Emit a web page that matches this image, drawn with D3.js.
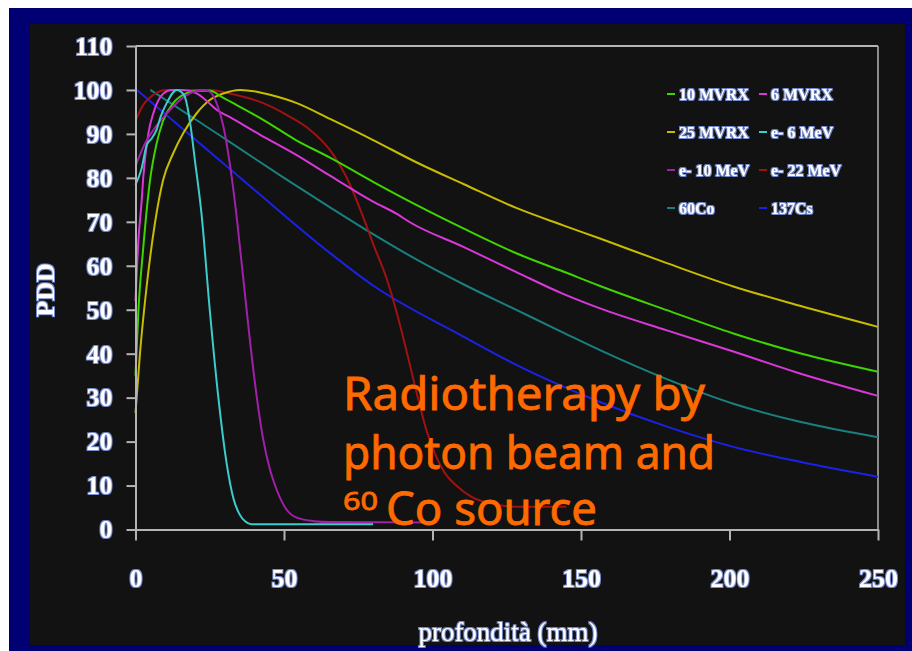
<!DOCTYPE html>
<html>
<head>
<meta charset="utf-8">
<script src="https://cdn.jsdelivr.net/npm/d3@7"></script>
<style>
  html, body { margin: 0; padding: 0; background: #ffffff; }
  svg { display: block; }
</style>
</head>
<body>
<svg id="chart" width="912" height="651"></svg>
<script>
// depth (mm), PDD (%)
const mv10 = [[0,35],[1,50],[2.6,64],[4.8,79],[7,87.5],[9.3,93],[12.7,97],[17,99.2],[20.6,99.8],[25,99.8],[29.6,98.2],[35,96.2],[43,93.2],[54,88.6],[65.5,84.6],[80,79.1],[94.7,73.8],[110.4,68.5],[128.4,62.8],[144,58.7],[156.4,55.4],[178.9,49.9],[201.3,44.6],[223.7,40.1],[250,35.9]];
const mv6 = [[0,52],[1,66],[2.1,75],[2.6,80],[4.3,90],[6,94.7],[9.4,99.2],[12.2,100],[16,100],[20.6,99.2],[24,97.5],[27.3,95.5],[31.8,93.8],[42,89.8],[54,85.3],[65.5,80.5],[80,74.6],[88,71.8],[92.4,69.9],[110.4,64.3],[128.4,58.5],[144,53.6],[156.4,50.3],[178.9,45.3],[201.3,40.5],[223.7,35.5],[250,30.4]];
const mv25 = [[0,26.5],[1.5,40],[3.7,55],[6.5,69.5],[9.3,79.5],[12.7,85.6],[16.1,90.2],[20.6,94.7],[25,97.7],[29.6,99.2],[35.2,100],[40.8,99.6],[45.3,98.9],[54.3,97],[65.5,93.4],[80,88.6],[94.7,83.5],[110.4,78.6],[128.4,73.1],[144,69.2],[156.4,66.2],[178.9,60.6],[201.3,55.3],[223.7,50.9],[250,46.1]];
const e6 = [[0,78.4],[2,82],[3.8,87.5],[5.5,89],[7.1,91],[8.5,94],[10.5,97],[13.9,100],[15.5,99.5],[16.7,98.3],[18.4,92.5],[20,84],[22.2,72],[25,50],[27.9,30],[30.7,15],[33,7],[35,3.5],[37,1.8],[39,1.2],[50,1.2],[80,1.2]];
const e10 = [[0,82.6],[2.6,87],[6,90.9],[9.3,93.7],[13.8,97],[18.3,99.2],[22.8,100],[25,99.6],[27.3,97],[29.6,91.7],[31.8,83],[34,71.5],[36.3,57],[38.5,43.2],[40.8,30.3],[43,20.5],[45.3,13.6],[47.5,9.1],[50.9,4.5],[54.3,2.7],[60,1.9],[65.5,1.7],[100,1.6]];
const e22 = [[0,93],[2.6,96.6],[6,98.9],[10.4,100],[25,100],[31.8,99.2],[43,97],[52,93.9],[58.8,90.9],[65.5,86.3],[72.2,78.5],[76.7,71],[80,65],[84.6,57],[87.9,49.5],[91.3,40.5],[94.7,31],[98,22.5],[101,17],[104,13],[108,10],[113,7.5],[119,6],[128,5.2],[145,5.2]];
const co60 = [[5,100],[20,93.4],[35,86.7],[50,80],[65.5,73.3],[80,67.2],[94.7,61.4],[110.4,55.8],[128.4,49.9],[144,44.8],[156.4,40.8],[178.9,34.2],[201.3,28.6],[223.7,24.5],[250,21]];
const cs137 = [[0.5,100],[20,88.8],[40,77.3],[65.5,62.9],[80,55.5],[110.4,43.9],[128.4,37.4],[144,32.5],[156.4,29],[178.9,23.4],[201.3,18.8],[223.7,15.4],[250,12]];

const seriesNames = ["10 MVRX", "6 MVRX", "25 MVRX", "e- 6 MeV", "e- 10 MeV", "e- 22 MeV", "60Co", "137Cs"];
const seriesData = [mv10, mv6, mv25, e6, e10, e22, co60, cs137];
const seriesColors = ["#3fd400", "#d838d8", "#c8bc00", "#3ccccc", "#a020a8", "#a01212", "#1a7f7f", "#1a22e6"];
// drawing order (back to front)
const drawOrder = [6, 7, 5, 2, 0, 1, 4, 3];

const xTicks = [0, 50, 100, 150, 200, 250];
const yTicks = [0, 10, 20, 30, 40, 50, 60, 70, 80, 90, 100, 110];

const svg = d3.select("#chart");
const serif = "'Liberation Serif', 'Times New Roman', serif";

// soft glow for the white labels
const defs = svg.append("defs");
const glow = defs.append("filter").attr("id", "glow")
    .attr("x", "-20%").attr("y", "-20%").attr("width", "140%").attr("height", "140%");
glow.append("feMorphology").attr("in", "SourceAlpha").attr("operator", "dilate").attr("radius", 0.6).attr("result", "d");
glow.append("feGaussianBlur").attr("in", "d").attr("stdDeviation", 0.7).attr("result", "b");
glow.append("feFlood").attr("flood-color", "#8faaff").attr("flood-opacity", 0.8).attr("result", "c");
glow.append("feComposite").attr("in", "c").attr("in2", "b").attr("operator", "in").attr("result", "g");
const gm = glow.append("feMerge");
gm.append("feMergeNode").attr("in", "g");
gm.append("feMergeNode").attr("in", "SourceGraphic");

// backgrounds
svg.append("rect").attr("x", 9).attr("y", 8).attr("width", 903).attr("height", 643).attr("fill", "#000072");
svg.append("rect").attr("x", 30).attr("y", 24).attr("width", 875).attr("height", 621).attr("fill", "#121212");

const x = d3.scaleLinear().domain([0, 250]).range([135.5, 878]);
const y = d3.scaleLinear().domain([0, 110]).range([529.5, 46]);

// frame top and right
svg.append("line").attr("x1", x(0)).attr("x2", x(250)).attr("y1", y(110)).attr("y2", y(110))
    .attr("stroke", "#b4b4b4").attr("stroke-width", 2);
svg.append("line").attr("x1", x(250)).attr("x2", x(250)).attr("y1", y(110)).attr("y2", y(0))
    .attr("stroke", "#b4b4b4").attr("stroke-width", 1.5);

// curves
const line = d3.line()
    .x(d => x(d[0]))
    .y(d => y(d[1]))
    .curve(d3.curveMonotoneX);

svg.append("g").selectAll("path")
    .data(drawOrder)
    .enter()
    .append("path")
    .attr("d", i => line(seriesData[i]))
    .attr("fill", "none")
    .attr("stroke", i => seriesColors[i])
    .attr("stroke-width", 2)
    .attr("stroke-linejoin", "round");

// axes
const yAxis = svg.append("g")
    .attr("transform", `translate(${x(0)},0)`)
    .call(d3.axisLeft(y).tickValues(yTicks).tickSize(9).tickSizeOuter(0).tickPadding(14));
const xAxis = svg.append("g")
    .attr("transform", `translate(0,${y(0)})`)
    .call(d3.axisBottom(x).tickValues(xTicks).tickSize(11).tickSizeOuter(0).tickPadding(28));

[yAxis, xAxis].forEach(g => {
    g.selectAll("path, line").attr("stroke", "#b4b4b4").attr("stroke-width", 2);
    g.selectAll("text")
        .attr("fill", "#ffffff")
        .style("font-family", serif)
        .style("font-size", "26px")
        .style("font-weight", "bold")
        .attr("filter", "url(#glow)");
});

// axis titles
svg.append("text")
    .attr("x", 508).attr("y", 641)
    .attr("text-anchor", "middle")
    .attr("fill", "#ffffff")
    .style("font-family", serif).style("font-size", "27px")
    .attr("filter", "url(#glow)")
    .text("profondità (mm)");

svg.append("text")
    .attr("transform", "translate(54,290) rotate(-90)")
    .attr("text-anchor", "middle")
    .attr("fill", "#ffffff")
    .style("font-family", serif).style("font-size", "26px").style("font-weight", "bold")
    .attr("filter", "url(#glow)")
    .text("PDD");

// legend, two columns
const legendX = [667, 759];
const legendY = [94, 132, 170, 208];
const legend = svg.append("g").selectAll("g")
    .data(seriesNames)
    .enter()
    .append("g")
    .attr("transform", (d, i) => `translate(${legendX[i % 2]},${legendY[Math.floor(i / 2)]})`);
legend.append("line")
    .attr("x1", 0).attr("x2", 8).attr("y1", 0).attr("y2", 0)
    .attr("stroke", (d, i) => seriesColors[i]).attr("stroke-width", 2);
legend.append("text")
    .attr("x", 12).attr("y", 0).attr("dy", "0.35em")
    .attr("fill", "#ffffff")
    .style("font-family", serif).style("font-size", "16px").style("font-weight", "bold")
    .attr("filter", "url(#glow)")
    .text(d => d);

// orange caption
const orange = "#ff6a00";
const cap = svg.append("g").attr("fill", orange)
    .attr("stroke", orange).attr("stroke-width", 0.8)
    .style("font-family", "'Noto Sans', 'DejaVu Sans', sans-serif");
cap.append("text").attr("x", 343).attr("y", 410).style("font-size", "46px")
    .attr("textLength", 362).attr("lengthAdjust", "spacingAndGlyphs").text("Radiotherapy by");
cap.append("text").attr("x", 343).attr("y", 469).style("font-size", "46px")
    .attr("textLength", 372).attr("lengthAdjust", "spacingAndGlyphs").text("photon beam and");
cap.append("text").attr("x", 343).attr("y", 510).style("font-size", "25px")
    .attr("textLength", 35).attr("lengthAdjust", "spacingAndGlyphs").text("60");
cap.append("text").attr("x", 386).attr("y", 525).style("font-size", "46px")
    .attr("textLength", 211).attr("lengthAdjust", "spacingAndGlyphs").text("Co source");
</script>
</body>
</html>
